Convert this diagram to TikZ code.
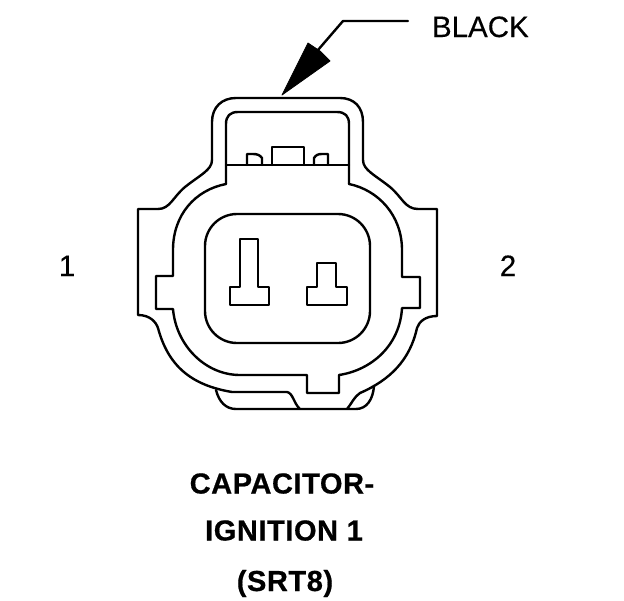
\documentclass[tikz,border=0pt]{standalone}
\usepackage{fontspec}
\setmainfont{Liberation Sans}
\newfontfamily\titlefont[LetterSpace=2,FakeBold=0.6]{Liberation Sans Bold}
\newfontfamily\plainfont[FakeBold=0.25]{Liberation Sans}
\tikzset{
  wire/.style={draw=black,line width=2.4pt,line join=round,line cap=round,fill=none},
  lbl/.style={inner sep=0pt,outer sep=0pt,anchor=base,font=\plainfont\fontsize{29.5}{29.5}\selectfont},
  title/.style={inner sep=0pt,outer sep=0pt,anchor=base,font=\titlefont\fontsize{29}{29}\selectfont}
}
\begin{document}
\begin{tikzpicture}[x=1pt,y=-1pt]
\useasboundingbox (0,0) rectangle (624,600);
% outer housing
\draw[wire] (212,160) -- (212,122) .. controls (212,107) and (222,98) .. (236,98) -- (340,98)
  .. controls (354,98) and (363,107) .. (363,122) -- (363,160)
  .. controls (363,170) and (375,175) .. (390,187)
  .. controls (402,197) and (405,209) .. (418,209) -- (437,209) -- (437,316)
  .. controls (425,316) and (419,322) .. (417,328)
  .. controls (410,360) and (390,380) .. (360,393)
  .. controls (354,397) and (352,403) .. (347,409);
\draw[wire] (212,160) .. controls (212,170) and (200,175) .. (185,187)
  .. controls (173,197) and (170,209) .. (158,209) -- (138,209) -- (138,315)
  .. controls (150,315) and (156,322) .. (158,328)
  .. controls (168,365) and (190,385) .. (232,392) -- (287,392)
  .. controls (293,393) and (294,404) .. (300,409);
% bottom lip
\draw[wire] (216,390) .. controls (219,402) and (226,409) .. (236,409) -- (356,409)
  .. controls (367,409) and (373,399) .. (374,386);
% latch window
\draw[wire] (226,184) -- (226,124) .. controls (226,116) and (230,112) .. (238,112) -- (337,112)
  .. controls (345,112) and (349,116) .. (349,124) -- (349,184);
\draw[wire] (226,165) -- (349,165);
\draw[wire] (272,165) -- (272,147) -- (304,147) -- (304,165);
\draw[wire] (247,165) -- (247,154) -- (253,154) .. controls (257,154) and (260,155) .. (262,158) -- (262,165);
\draw[wire] (328,165) -- (328,154) -- (322,154) .. controls (318,154) and (316,155) .. (314,158) -- (314,165);
% inner wall
\draw[wire] (226,184) .. controls (195,190) and (173,215) .. (173,250) -- (173,276) -- (156,276) -- (156,309) -- (173,309)
  .. controls (176,345) and (205,375) .. (240,375) -- (307,375) -- (307,393) -- (339,393) -- (339,375)
  .. controls (372,370) and (400,345) .. (402,308) -- (420,308) -- (420,277) -- (402,277) -- (402,250)
  .. controls (402,215) and (378,190) .. (349,184);
% cavity
\draw[wire,rounded corners=32pt] (205,214) rectangle (370,343);
% pins
\draw[wire] (240,239) -- (258,239) -- (258,287) -- (269,287) -- (269,305) -- (230,305) -- (230,287) -- (240,287) -- cycle;
\draw[wire] (317,263) -- (336,263) -- (336,287) -- (347,287) -- (347,305) -- (307,305) -- (307,287) -- (317,287) -- cycle;
% leader and arrowhead
\coordinate (leadA) at (408,21);
\coordinate (leadB) at (343,21);
\coordinate (leadC) at (318,50);
\coordinate (tip) at (282,95);
\draw[wire] (leadA) -- (leadB) -- (leadC);
\fill[black,draw=black,line width=0.8pt,line join=round] (tip) -- (308,43) -- (320,51) -- (330,61) -- cycle;
% text
\node[lbl,anchor=base west] (black) at (432,37) {BLACK};
\node[lbl] (one) at (67,276) {1};
\node[lbl] (two) at (508,276) {2};
\node[title] (t1) at (282,493.5) {CAPACITOR-};
\node[title] (t2) at (284,540.5) {IGNITION 1};
\node[title] (t3) at (285,591) {(SRT8)};
\end{tikzpicture}
\end{document}
